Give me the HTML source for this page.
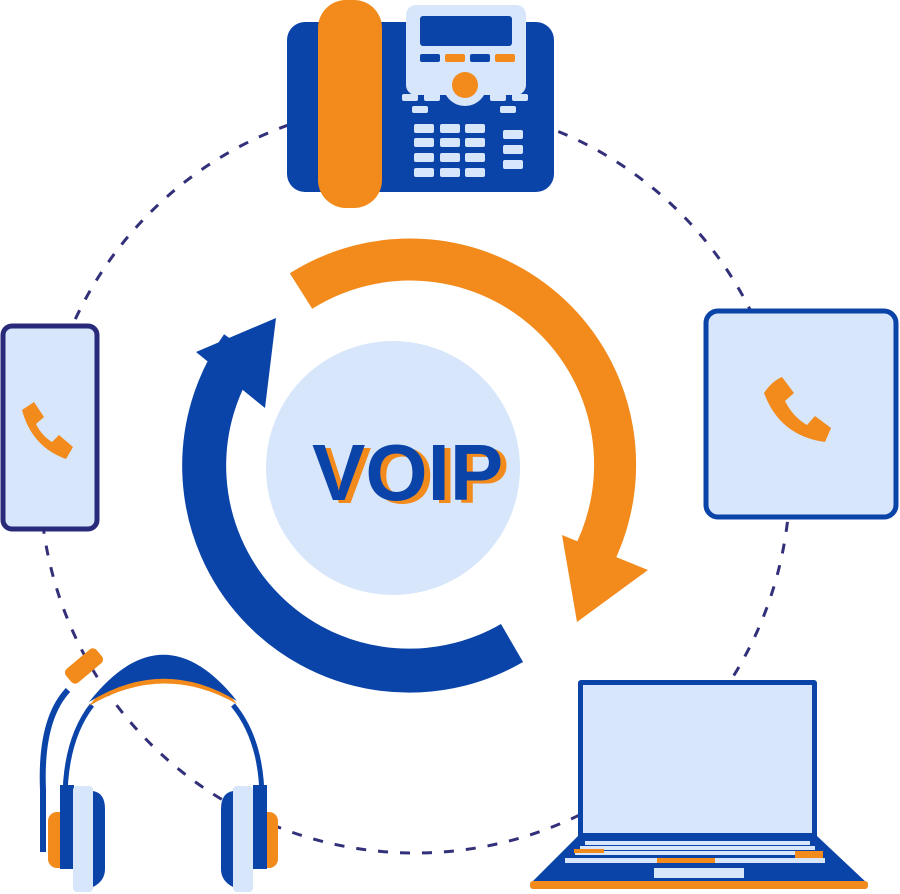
<!DOCTYPE html>
<html><head><meta charset="utf-8"><style>html,body{margin:0;padding:0;background:#fff}svg{display:block}</style></head>
<body>
<svg width="900" height="894" viewBox="0 0 900 894" xmlns="http://www.w3.org/2000/svg">
<circle cx="415" cy="478" r="375" fill="none" stroke="#33307a" stroke-width="3" stroke-dasharray="10 12"/>
<circle cx="393" cy="468" r="127" fill="#d7e6fb"/>
<!-- orange arc -->
<path d="M301,291 A205,205 0 0 1 591,561" fill="none" stroke="#f28a1c" stroke-width="42"/>
<polygon points="562,535 648,570 577,622" fill="#f28a1c"/>
<!-- blue arc -->
<path d="M512,643 A205,205 0 0 1 242,347" fill="none" stroke="#0b44a8" stroke-width="44"/>
<polygon points="276,318 196,352 265,408" fill="#0b44a8"/>
<text x="318" y="503" font-family="Liberation Sans, sans-serif" font-weight="bold" font-size="80" fill="#f28a1c">VOIP</text>
<text x="312" y="500" font-family="Liberation Sans, sans-serif" font-weight="bold" font-size="80" fill="#0b44a8">VOIP</text>
<!-- desk phone -->
<rect x="287" y="22" width="267" height="170" rx="18" fill="#0b44a8"/>
<rect x="406" y="5" width="120" height="90" rx="10" fill="#d7e6fb"/>
<circle cx="465" cy="84" r="22" fill="#d7e6fb"/>
<rect x="420" y="16" width="92" height="30" rx="3" fill="#0b44a8"/>
<rect x="420" y="54" width="20" height="8" rx="2" fill="#0b44a8"/>
<rect x="445" y="54" width="20" height="8" rx="2" fill="#f28a1c"/>
<rect x="470" y="54" width="20" height="8" rx="2" fill="#0b44a8"/>
<rect x="495" y="54" width="20" height="8" rx="2" fill="#f28a1c"/>
<circle cx="465" cy="85" r="13" fill="#f28a1c"/>
<g fill="#d7e6fb">
<rect x="402" y="94" width="16" height="7" rx="2"/><rect x="424" y="94" width="16" height="7" rx="2"/>
<rect x="490" y="94" width="16" height="7" rx="2"/><rect x="512" y="94" width="16" height="7" rx="2"/>
<rect x="412" y="106" width="16" height="7" rx="2"/><rect x="500" y="106" width="16" height="7" rx="2"/>
<rect x="414" y="124" width="20" height="9" rx="2"/><rect x="440" y="124" width="20" height="9" rx="2"/><rect x="465" y="124" width="20" height="9" rx="2"/>
<rect x="414" y="138" width="20" height="9" rx="2"/><rect x="440" y="138" width="20" height="9" rx="2"/><rect x="465" y="138" width="20" height="9" rx="2"/>
<rect x="414" y="153" width="20" height="9" rx="2"/><rect x="440" y="153" width="20" height="9" rx="2"/><rect x="465" y="153" width="20" height="9" rx="2"/>
<rect x="414" y="168" width="20" height="9" rx="2"/><rect x="440" y="168" width="20" height="9" rx="2"/><rect x="465" y="168" width="20" height="9" rx="2"/>
<rect x="503" y="130" width="20" height="9" rx="2"/><rect x="503" y="145" width="20" height="9" rx="2"/><rect x="503" y="160" width="20" height="9" rx="2"/>
</g>
<rect x="318" y="0" width="64" height="208" rx="28" fill="#f28a1c"/>
<!-- mobile -->
<rect x="3" y="326" width="94" height="203" rx="9" fill="#d7e6fb" stroke="#2a2a7a" stroke-width="5"/>
<path d="M22,410 l12,-8 l10,15 l-8,7 q6,12 16,18 l7,-7 l14,12 l-7,12 q-34,-12 -44,-49z" fill="#f28a1c"/>
<!-- tablet -->
<rect x="706" y="311" width="190" height="206" rx="12" fill="#d7e6fb" stroke="#0b44a8" stroke-width="5"/>
<path d="M764,393 q8,-12 18,-16 l12,16 l-9,8 q8,16 22,24 l8,-9 l16,12 l-6,14 q-45,-6 -61,-49z" fill="#f28a1c"/>
<!-- laptop -->
<rect x="578" y="680" width="239" height="160" rx="3" fill="#0b44a8"/>
<rect x="583" y="685" width="229" height="148" fill="#d7e6fb"/>
<polygon points="578,836 817,836 868,884 530,884" fill="#0b44a8"/>
<rect x="530" y="881" width="338" height="8" rx="3" fill="#f28a1c"/>
<g fill="#d7e6fb">
<rect x="585" y="841" width="225" height="4"/><rect x="580" y="846" width="235" height="4"/>
<rect x="575" y="851" width="245" height="4"/><rect x="565" y="858" width="260" height="5"/>
</g>
<rect x="574" y="849" width="30" height="4" fill="#f28a1c"/>
<rect x="795" y="851" width="28" height="7" fill="#f28a1c"/>
<rect x="657" y="858" width="58" height="5" fill="#f28a1c"/>
<rect x="654" y="868" width="90" height="10" fill="#d7e6fb"/>
<!-- headphones -->
<path d="M68,690 Q40,720 43,790 L43,852" fill="none" stroke="#0b44a8" stroke-width="6"/>
<path d="M92,705 Q65,740 65,800" fill="none" stroke="#0b44a8" stroke-width="5"/>
<path d="M233,705 Q262,740 262,800" fill="none" stroke="#0b44a8" stroke-width="5"/>
<rect x="64" y="657" width="40" height="18" rx="5" fill="#f28a1c" transform="rotate(-40 84 666)"/>
<path d="M89,706 Q163,610 237,704 Q163,662 89,706z" fill="#f28a1c"/>
<path d="M89,702 Q163,608 237,701 Q163,656 89,702z" fill="#0b44a8"/>
<rect x="48" y="812" width="20" height="56" rx="9" fill="#f28a1c"/>
<rect x="60" y="785" width="14" height="84" fill="#0b44a8"/>
<rect x="73" y="786" width="20" height="106" rx="4" fill="#d7e6fb"/>
<path d="M93,791 q12,2 12,18 v60 q0,12 -12,18z" fill="#0b44a8"/>
<rect x="258" y="812" width="20" height="56" rx="9" fill="#f28a1c"/>
<rect x="253" y="785" width="14" height="84" fill="#0b44a8"/>
<rect x="233" y="786" width="20" height="106" rx="4" fill="#d7e6fb"/>
<path d="M233,791 q-12,2 -12,18 v60 q0,12 12,18z" fill="#0b44a8"/>
</svg>
</body></html>
